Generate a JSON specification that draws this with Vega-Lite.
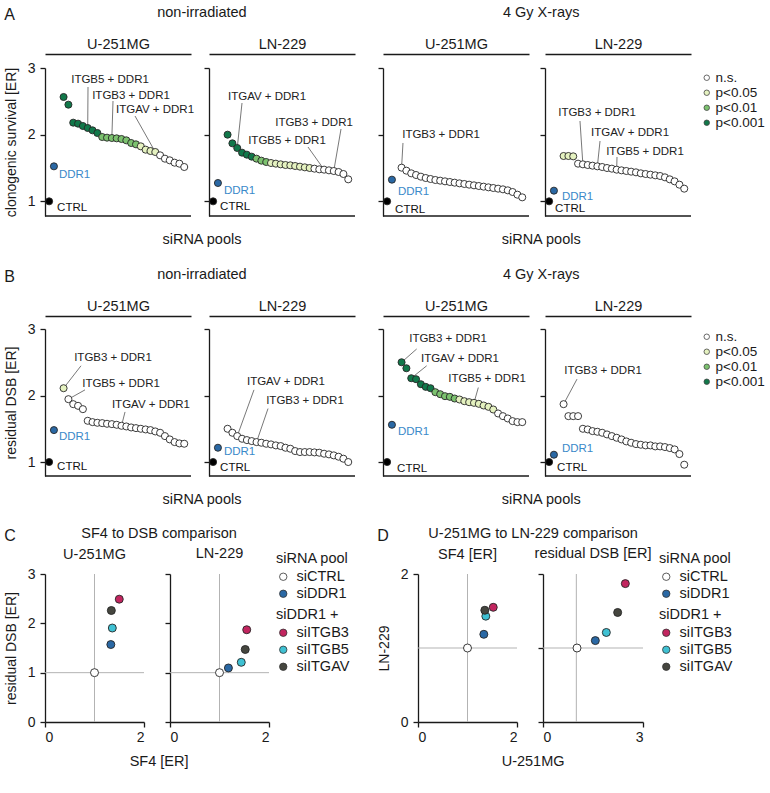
{
 "$schema": "https://vega.github.io/schema/vega-lite/v6.json",
 "background": "white",
 "padding": {"left": 4, "top": 4, "right": 2, "bottom": 2},
 "config": {
  "font": "Liberation Sans",
  "view": {"stroke": null},
  "axis": {"grid": false, "domainColor": "#1a1a1a", "domainWidth": 1.3, "tickColor": "#1a1a1a", "tickWidth": 1.3, "labelFontSize": 14, "labelColor": "#1a1a1a", "titleFontSize": 14.5, "titleFontWeight": "normal", "titleColor": "#1a1a1a"},
  "legend": {"labelFontSize": 14, "titleFontSize": 14.5, "titleFontWeight": "normal", "labelColor": "#1a1a1a", "titleColor": "#1a1a1a", "symbolType": "circle"}
 },
 "datasets": {
  "one": [{"h": 0}],
  "scr": [
   {"p":"A1","i":0,"v":1,"c":"CTRL"},{"p":"A1","i":1,"v":1.525,"c":"DDR1"},
   {"p":"A1","i":3,"v":2.565,"c":"p<0.001"},{"p":"A1","i":4,"v":2.45,"c":"p<0.001"},{"p":"A1","i":5,"v":2.18,"c":"p<0.001"},{"p":"A1","i":6,"v":2.165,"c":"p<0.001"},{"p":"A1","i":7,"v":2.13,"c":"p<0.001"},{"p":"A1","i":8,"v":2.1,"c":"p<0.001"},{"p":"A1","i":9,"v":2.065,"c":"p<0.001"},{"p":"A1","i":10,"v":2.025,"c":"p<0.001"},
   {"p":"A1","i":11,"v":1.965,"c":"p<0.01"},{"p":"A1","i":12,"v":1.955,"c":"p<0.01"},{"p":"A1","i":13,"v":1.95,"c":"p<0.01"},{"p":"A1","i":14,"v":1.945,"c":"p<0.01"},{"p":"A1","i":15,"v":1.935,"c":"p<0.01"},{"p":"A1","i":16,"v":1.915,"c":"p<0.01"},{"p":"A1","i":17,"v":1.875,"c":"p<0.01"},{"p":"A1","i":18,"v":1.855,"c":"p<0.01"},
   {"p":"A1","i":19,"v":1.825,"c":"p<0.05"},{"p":"A1","i":20,"v":1.775,"c":"p<0.05"},{"p":"A1","i":21,"v":1.755,"c":"p<0.05"},{"p":"A1","i":22,"v":1.74,"c":"p<0.05"},
   {"p":"A1","i":23,"v":1.69,"c":"n.s."},{"p":"A1","i":24,"v":1.64,"c":"n.s."},{"p":"A1","i":25,"v":1.615,"c":"n.s."},{"p":"A1","i":26,"v":1.58,"c":"n.s."},{"p":"A1","i":27,"v":1.565,"c":"n.s."},{"p":"A1","i":28,"v":1.515,"c":"n.s."},
   {"p":"A2","i":0,"v":1,"c":"CTRL"},{"p":"A2","i":1,"v":1.275,"c":"DDR1"},
   {"p":"A2","i":3,"v":2.0,"c":"p<0.001"},{"p":"A2","i":4,"v":1.87,"c":"p<0.001"},{"p":"A2","i":5,"v":1.8,"c":"p<0.001"},{"p":"A2","i":6,"v":1.73,"c":"p<0.001"},{"p":"A2","i":7,"v":1.7,"c":"p<0.001"},{"p":"A2","i":8,"v":1.67,"c":"p<0.001"},
   {"p":"A2","i":9,"v":1.64,"c":"p<0.01"},{"p":"A2","i":10,"v":1.61,"c":"p<0.01"},{"p":"A2","i":11,"v":1.59,"c":"p<0.01"},
   {"p":"A2","i":12,"v":1.575,"c":"p<0.05"},{"p":"A2","i":13,"v":1.565,"c":"p<0.05"},{"p":"A2","i":14,"v":1.555,"c":"p<0.05"},{"p":"A2","i":15,"v":1.545,"c":"p<0.05"},{"p":"A2","i":16,"v":1.54,"c":"p<0.05"},{"p":"A2","i":17,"v":1.53,"c":"p<0.05"},{"p":"A2","i":18,"v":1.52,"c":"p<0.05"},{"p":"A2","i":19,"v":1.51,"c":"p<0.05"},{"p":"A2","i":20,"v":1.5,"c":"p<0.05"},
   {"p":"A2","i":21,"v":1.49,"c":"n.s."},{"p":"A2","i":22,"v":1.48,"c":"n.s."},{"p":"A2","i":23,"v":1.475,"c":"n.s."},{"p":"A2","i":24,"v":1.465,"c":"n.s."},{"p":"A2","i":25,"v":1.455,"c":"n.s."},{"p":"A2","i":26,"v":1.44,"c":"n.s."},{"p":"A2","i":27,"v":1.41,"c":"n.s."},{"p":"A2","i":28,"v":1.33,"c":"n.s."},
   {"p":"A3","i":0,"v":1,"c":"CTRL"},{"p":"A3","i":1,"v":1.325,"c":"DDR1"},
   {"p":"A3","i":3,"v":1.505,"c":"n.s."},{"p":"A3","i":4,"v":1.46,"c":"n.s."},{"p":"A3","i":5,"v":1.42,"c":"n.s."},{"p":"A3","i":6,"v":1.395,"c":"n.s."},{"p":"A3","i":7,"v":1.37,"c":"n.s."},{"p":"A3","i":8,"v":1.35,"c":"n.s."},{"p":"A3","i":9,"v":1.335,"c":"n.s."},{"p":"A3","i":10,"v":1.32,"c":"n.s."},{"p":"A3","i":11,"v":1.31,"c":"n.s."},{"p":"A3","i":12,"v":1.3,"c":"n.s."},{"p":"A3","i":13,"v":1.29,"c":"n.s."},{"p":"A3","i":14,"v":1.28,"c":"n.s."},{"p":"A3","i":15,"v":1.27,"c":"n.s."},{"p":"A3","i":16,"v":1.26,"c":"n.s."},{"p":"A3","i":17,"v":1.25,"c":"n.s."},{"p":"A3","i":18,"v":1.24,"c":"n.s."},{"p":"A3","i":19,"v":1.23,"c":"n.s."},{"p":"A3","i":20,"v":1.22,"c":"n.s."},{"p":"A3","i":21,"v":1.21,"c":"n.s."},{"p":"A3","i":22,"v":1.2,"c":"n.s."},{"p":"A3","i":23,"v":1.19,"c":"n.s."},{"p":"A3","i":24,"v":1.18,"c":"n.s."},{"p":"A3","i":25,"v":1.165,"c":"n.s."},{"p":"A3","i":26,"v":1.14,"c":"n.s."},{"p":"A3","i":27,"v":1.1,"c":"n.s."},{"p":"A3","i":28,"v":1.06,"c":"n.s."},
   {"p":"A4","i":0,"v":1,"c":"CTRL"},{"p":"A4","i":1,"v":1.16,"c":"DDR1"},
   {"p":"A4","i":3,"v":1.68,"c":"p<0.05"},{"p":"A4","i":4,"v":1.68,"c":"p<0.05"},{"p":"A4","i":5,"v":1.675,"c":"p<0.05"},
   {"p":"A4","i":6,"v":1.565,"c":"n.s."},{"p":"A4","i":7,"v":1.555,"c":"n.s."},{"p":"A4","i":8,"v":1.545,"c":"n.s."},{"p":"A4","i":9,"v":1.535,"c":"n.s."},{"p":"A4","i":10,"v":1.525,"c":"n.s."},{"p":"A4","i":11,"v":1.515,"c":"n.s."},{"p":"A4","i":12,"v":1.5,"c":"n.s."},{"p":"A4","i":13,"v":1.49,"c":"n.s."},{"p":"A4","i":14,"v":1.475,"c":"n.s."},{"p":"A4","i":15,"v":1.465,"c":"n.s."},{"p":"A4","i":16,"v":1.455,"c":"n.s."},{"p":"A4","i":17,"v":1.445,"c":"n.s."},{"p":"A4","i":18,"v":1.435,"c":"n.s."},{"p":"A4","i":19,"v":1.42,"c":"n.s."},{"p":"A4","i":20,"v":1.41,"c":"n.s."},{"p":"A4","i":21,"v":1.4,"c":"n.s."},{"p":"A4","i":22,"v":1.39,"c":"n.s."},{"p":"A4","i":23,"v":1.38,"c":"n.s."},{"p":"A4","i":24,"v":1.36,"c":"n.s."},{"p":"A4","i":25,"v":1.33,"c":"n.s."},{"p":"A4","i":26,"v":1.3,"c":"n.s."},{"p":"A4","i":27,"v":1.25,"c":"n.s."},{"p":"A4","i":28,"v":1.19,"c":"n.s."},
   {"p":"B1","i":0,"v":1,"c":"CTRL"},{"p":"B1","i":1,"v":1.48,"c":"DDR1"},
   {"p":"B1","i":3,"v":2.11,"c":"p<0.05"},
   {"p":"B1","i":4,"v":1.945,"c":"n.s."},{"p":"B1","i":5,"v":1.87,"c":"n.s."},{"p":"B1","i":6,"v":1.845,"c":"n.s."},{"p":"B1","i":7,"v":1.795,"c":"n.s."},{"p":"B1","i":8,"v":1.62,"c":"n.s."},{"p":"B1","i":9,"v":1.6,"c":"n.s."},{"p":"B1","i":10,"v":1.59,"c":"n.s."},{"p":"B1","i":11,"v":1.585,"c":"n.s."},{"p":"B1","i":12,"v":1.575,"c":"n.s."},{"p":"B1","i":13,"v":1.57,"c":"n.s."},{"p":"B1","i":14,"v":1.56,"c":"n.s."},{"p":"B1","i":15,"v":1.545,"c":"n.s."},{"p":"B1","i":16,"v":1.535,"c":"n.s."},{"p":"B1","i":17,"v":1.52,"c":"n.s."},{"p":"B1","i":18,"v":1.51,"c":"n.s."},{"p":"B1","i":19,"v":1.5,"c":"n.s."},{"p":"B1","i":20,"v":1.49,"c":"n.s."},{"p":"B1","i":21,"v":1.48,"c":"n.s."},{"p":"B1","i":22,"v":1.46,"c":"n.s."},{"p":"B1","i":23,"v":1.44,"c":"n.s."},{"p":"B1","i":24,"v":1.39,"c":"n.s."},{"p":"B1","i":25,"v":1.34,"c":"n.s."},{"p":"B1","i":26,"v":1.3,"c":"n.s."},{"p":"B1","i":27,"v":1.28,"c":"n.s."},{"p":"B1","i":28,"v":1.275,"c":"n.s."},
   {"p":"B2","i":0,"v":1,"c":"CTRL"},{"p":"B2","i":1,"v":1.215,"c":"DDR1"},
   {"p":"B2","i":3,"v":1.5,"c":"n.s."},{"p":"B2","i":4,"v":1.44,"c":"n.s."},{"p":"B2","i":5,"v":1.39,"c":"n.s."},{"p":"B2","i":6,"v":1.35,"c":"n.s."},{"p":"B2","i":7,"v":1.33,"c":"n.s."},{"p":"B2","i":8,"v":1.315,"c":"n.s."},{"p":"B2","i":9,"v":1.3,"c":"n.s."},{"p":"B2","i":10,"v":1.29,"c":"n.s."},{"p":"B2","i":11,"v":1.275,"c":"n.s."},{"p":"B2","i":12,"v":1.265,"c":"n.s."},{"p":"B2","i":13,"v":1.25,"c":"n.s."},{"p":"B2","i":14,"v":1.24,"c":"n.s."},{"p":"B2","i":15,"v":1.215,"c":"n.s."},{"p":"B2","i":16,"v":1.2,"c":"n.s."},{"p":"B2","i":17,"v":1.165,"c":"n.s."},{"p":"B2","i":18,"v":1.15,"c":"n.s."},{"p":"B2","i":19,"v":1.15,"c":"n.s."},{"p":"B2","i":20,"v":1.15,"c":"n.s."},{"p":"B2","i":21,"v":1.145,"c":"n.s."},{"p":"B2","i":22,"v":1.14,"c":"n.s."},{"p":"B2","i":23,"v":1.125,"c":"n.s."},{"p":"B2","i":24,"v":1.115,"c":"n.s."},{"p":"B2","i":25,"v":1.1,"c":"n.s."},{"p":"B2","i":26,"v":1.08,"c":"n.s."},{"p":"B2","i":27,"v":1.05,"c":"n.s."},{"p":"B2","i":28,"v":1.0,"c":"n.s."},
   {"p":"B3","i":0,"v":1,"c":"CTRL"},{"p":"B3","i":1,"v":1.56,"c":"DDR1"},
   {"p":"B3","i":3,"v":2.5,"c":"p<0.001"},{"p":"B3","i":4,"v":2.41,"c":"p<0.001"},{"p":"B3","i":5,"v":2.26,"c":"p<0.001"},{"p":"B3","i":6,"v":2.245,"c":"p<0.001"},{"p":"B3","i":7,"v":2.17,"c":"p<0.001"},{"p":"B3","i":8,"v":2.13,"c":"p<0.001"},{"p":"B3","i":9,"v":2.11,"c":"p<0.001"},
   {"p":"B3","i":10,"v":2.05,"c":"p<0.01"},{"p":"B3","i":11,"v":2.02,"c":"p<0.01"},{"p":"B3","i":12,"v":1.99,"c":"p<0.01"},{"p":"B3","i":13,"v":1.98,"c":"p<0.01"},{"p":"B3","i":14,"v":1.955,"c":"p<0.01"},
   {"p":"B3","i":15,"v":1.94,"c":"p<0.05"},{"p":"B3","i":16,"v":1.915,"c":"p<0.05"},{"p":"B3","i":17,"v":1.9,"c":"p<0.05"},{"p":"B3","i":18,"v":1.89,"c":"p<0.05"},{"p":"B3","i":19,"v":1.875,"c":"p<0.05"},{"p":"B3","i":20,"v":1.85,"c":"p<0.05"},{"p":"B3","i":21,"v":1.83,"c":"p<0.05"},{"p":"B3","i":22,"v":1.79,"c":"p<0.05"},
   {"p":"B3","i":23,"v":1.73,"c":"n.s."},{"p":"B3","i":24,"v":1.69,"c":"n.s."},{"p":"B3","i":25,"v":1.655,"c":"n.s."},{"p":"B3","i":26,"v":1.615,"c":"n.s."},{"p":"B3","i":27,"v":1.6,"c":"n.s."},{"p":"B3","i":28,"v":1.6,"c":"n.s."},
   {"p":"B4","i":0,"v":1,"c":"CTRL"},{"p":"B4","i":1,"v":1.11,"c":"DDR1"},
   {"p":"B4","i":3,"v":1.87,"c":"n.s."},{"p":"B4","i":4,"v":1.69,"c":"n.s."},{"p":"B4","i":5,"v":1.69,"c":"n.s."},{"p":"B4","i":6,"v":1.69,"c":"n.s."},{"p":"B4","i":7,"v":1.5,"c":"n.s."},{"p":"B4","i":8,"v":1.49,"c":"n.s."},{"p":"B4","i":9,"v":1.465,"c":"n.s."},{"p":"B4","i":10,"v":1.455,"c":"n.s."},{"p":"B4","i":11,"v":1.44,"c":"n.s."},{"p":"B4","i":12,"v":1.415,"c":"n.s."},{"p":"B4","i":13,"v":1.39,"c":"n.s."},{"p":"B4","i":14,"v":1.365,"c":"n.s."},{"p":"B4","i":15,"v":1.34,"c":"n.s."},{"p":"B4","i":16,"v":1.31,"c":"n.s."},{"p":"B4","i":17,"v":1.29,"c":"n.s."},{"p":"B4","i":18,"v":1.27,"c":"n.s."},{"p":"B4","i":19,"v":1.26,"c":"n.s."},{"p":"B4","i":20,"v":1.25,"c":"n.s."},{"p":"B4","i":21,"v":1.25,"c":"n.s."},{"p":"B4","i":22,"v":1.235,"c":"n.s."},{"p":"B4","i":23,"v":1.235,"c":"n.s."},{"p":"B4","i":24,"v":1.225,"c":"n.s."},{"p":"B4","i":25,"v":1.21,"c":"n.s."},{"p":"B4","i":26,"v":1.19,"c":"n.s."},{"p":"B4","i":27,"v":1.12,"c":"n.s."},{"p":"B4","i":28,"v":0.96,"c":"n.s."}
  ],
  "ann": [
   {"p":"A1","t":"ITGB5 + DDR1","i":8,"v":2.1,"li":8.06,"lv":2.715,"ti":12.62,"tv":2.82},
   {"p":"A1","t":"ITGB3 + DDR1","i":13,"v":1.95,"li":13.24,"lv":2.505,"ti":16.97,"tv":2.58},
   {"p":"A1","t":"ITGAV + DDR1","i":22,"v":1.74,"li":17.8,"lv":2.28,"ti":21.94,"tv":2.37},
   {"p":"A2","t":"ITGAV + DDR1","i":5,"v":1.8,"li":5.99,"lv":2.475,"ti":11.17,"tv":2.565},
   {"p":"A2","t":"ITGB3 + DDR1","i":25,"v":1.455,"li":26.5,"lv":2.085,"ti":20.91,"tv":2.175},
   {"p":"A2","t":"ITGB5 + DDR1","i":23,"v":1.475,"li":19.66,"lv":1.815,"ti":15.31,"tv":1.905},
   {"p":"A3","t":"ITGB3 + DDR1","i":3,"v":1.505,"li":3.29,"lv":1.875,"ti":11.17,"tv":1.995},
   {"p":"A4","t":"ITGB3 + DDR1","i":7,"v":1.555,"li":6.4,"lv":2.205,"ti":9.93,"tv":2.325},
   {"p":"A4","t":"ITGAV + DDR1","i":10,"v":1.525,"li":10.55,"lv":1.905,"ti":16.76,"tv":2.025},
   {"p":"A4","t":"ITGB5 + DDR1","i":14,"v":1.475,"li":14.07,"lv":1.665,"ti":19.87,"tv":1.74},
   {"p":"B1","t":"ITGB3 + DDR1","i":3,"v":2.11,"li":6.61,"lv":2.447,"ti":13.24,"tv":2.56},
   {"p":"B1","t":"ITGB5 + DDR1","i":4,"v":1.945,"li":7.44,"lv":2.085,"ti":14.9,"tv":2.17},
   {"p":"B1","t":"ITGAV + DDR1","i":15,"v":1.545,"li":15.73,"lv":1.753,"ti":21.1,"tv":1.854},
   {"p":"B2","t":"ITGAV + DDR1","i":5,"v":1.39,"li":8.47,"lv":2.085,"ti":15.1,"tv":2.196},
   {"p":"B2","t":"ITGB3 + DDR1","i":9,"v":1.3,"li":11.38,"lv":1.804,"ti":19.04,"tv":1.919},
   {"p":"B3","t":"ITGB3 + DDR1","i":3,"v":2.5,"li":6.13,"lv":2.7,"ti":12.62,"tv":2.85},
   {"p":"B3","t":"ITGAV + DDR1","i":5,"v":2.26,"li":8.2,"lv":2.447,"ti":15.1,"tv":2.548},
   {"p":"B3","t":"ITGB5 + DDR1","i":18,"v":1.89,"li":18.9,"lv":2.12,"ti":20.7,"tv":2.246},
   {"p":"B4","t":"ITGB3 + DDR1","i":3,"v":1.87,"li":5.78,"lv":2.246,"ti":11.17,"tv":2.371}
  ],
  "cd": [
   {"p":"C1","s":"siCTRL","x":1,"y":1},{"p":"C1","s":"siDDR1","x":1.33,"y":1.57},{"p":"C1","s":"siITGB3","x":1.5,"y":2.49},{"p":"C1","s":"siITGB5","x":1.36,"y":1.905},{"p":"C1","s":"siITGAV","x":1.34,"y":2.26},
   {"p":"C2","s":"siCTRL","x":1,"y":1},{"p":"C2","s":"siDDR1","x":1.18,"y":1.095},{"p":"C2","s":"siITGB3","x":1.55,"y":1.87},{"p":"C2","s":"siITGB5","x":1.44,"y":1.21},{"p":"C2","s":"siITGAV","x":1.52,"y":1.47},
   {"p":"D1","s":"siCTRL","x":1,"y":1},{"p":"D1","s":"siDDR1","x":1.33,"y":1.185},{"p":"D1","s":"siITGB3","x":1.52,"y":1.55},{"p":"D1","s":"siITGB5","x":1.37,"y":1.43},{"p":"D1","s":"siITGAV","x":1.35,"y":1.51},
   {"p":"D2","s":"siCTRL","x":1.02,"y":1},{"p":"D2","s":"siDDR1","x":1.57,"y":1.1},{"p":"D2","s":"siITGB3","x":2.47,"y":1.87},{"p":"D2","s":"siITGB5","x":1.9,"y":1.21},{"p":"D2","s":"siITGAV","x":2.24,"y":1.48}
  ]
 },
 "resolve": {"scale": {"fill": "independent"}, "legend": {"fill": "independent"}},
 "spacing": 19,
 "vconcat": [
  {
   "title": {"text": "A", "anchor": "start", "frame": "bounds", "offset": -18, "fontSize": 16, "fontWeight": "normal", "color": "#1a1a1a"},
   "spacing": 21,
   "resolve": {"scale": {"fill": "independent"}, "legend": {"fill": "independent"}},
   "hconcat": [
    {
     "title": {"text": "siRNA pools", "orient": "bottom", "anchor": "middle", "frame": "bounds", "offset": 16, "dx": 22, "fontSize": 14.5, "fontWeight": "normal", "color": "#1a1a1a"},
     "resolve": {"scale": {"fill": "independent"}, "legend": {"fill": "independent"}},
     "hconcat": [
      {
       "title": {"text": "non-irradiated", "anchor": "middle", "frame": "bounds", "offset": 16, "dx": 22, "fontSize": 14.5, "fontWeight": "normal", "color": "#1a1a1a"},
       "resolve": {"scale": {"fill": "independent"}, "legend": {"fill": "independent"}},
       "hconcat": [
        {
         "bounds": "flush", "spacing": 18,
         "resolve": {"scale": {"fill": "independent"}, "legend": {"fill": "independent"}},
         "hconcat": [
          {
           "width": 146, "height": 148,
           "layer": [
            {"data": {"name": "one"}, "mark": {"type": "rule", "stroke": "#1a1a1a", "strokeWidth": 1.3}, "encoding": {"y": {"datum": 0.78, "type": "quantitative", "scale": {"domain": [0.78, 3], "zero": false}}}},
            {"data": {"name": "ann"}, "transform": [{"filter": "datum.p == 'A1'"}], "mark": {"type": "rule", "stroke": "#555555", "strokeWidth": 0.8},
             "encoding": {"x": {"field": "i", "type": "quantitative", "scale": {"domain": [-0.85, 29.4]}, "axis": {"orient": "top", "offset": 14, "title": "U-251MG", "labels": false, "ticks": false, "titlePadding": 3}}, "x2": {"field": "li"}, "y": {"field": "v", "type": "quantitative", "scale": {"domain": [0.78, 3], "zero": false}}, "y2": {"field": "lv"}}},
            {"data": {"name": "ann"}, "transform": [{"filter": "datum.p == 'A1'"}], "mark": {"type": "text", "fontSize": 11.5, "fill": "#222222"},
             "encoding": {"x": {"field": "ti", "type": "quantitative", "scale": {"domain": [-0.85, 29.4]}}, "y": {"field": "tv", "type": "quantitative", "scale": {"domain": [0.78, 3], "zero": false}}, "text": {"field": "t"}}},
            {"data": {"name": "scr"}, "transform": [{"filter": "datum.p == 'A1'"}], "mark": {"type": "circle", "size": 50, "opacity": 1, "stroke": "#262626", "strokeWidth": 0.9},
             "encoding": {"x": {"field": "i", "type": "quantitative", "scale": {"domain": [-0.85, 29.4]}},
              "y": {"field": "v", "type": "quantitative", "scale": {"domain": [0.78, 3], "zero": false}, "axis": {"values": [1, 2, 3], "format": "d", "tickSize": 5, "labelPadding": 5, "title": "clonogenic survival [ER]", "titleFontSize": 14, "titlePadding": 9}},
              "fill": {"field": "c", "type": "nominal", "scale": {"domain": ["CTRL", "DDR1", "n.s.", "p<0.05", "p<0.01", "p<0.001"], "range": ["#000000", "#2a68a4", "#ffffff", "#e5f2c0", "#7cc26f", "#11784a"]}, "legend": null}}},
            {"data": {"name": "scr"}, "transform": [{"filter": "datum.p == 'A1' && datum.c == 'CTRL'"}], "mark": {"type": "text", "align": "left", "dx": 8, "dy": 7, "fontSize": 11.5, "fill": "#111111"},
             "encoding": {"x": {"field": "i", "type": "quantitative", "scale": {"domain": [-0.85, 29.4]}}, "y": {"field": "v", "type": "quantitative", "scale": {"domain": [0.78, 3], "zero": false}}, "text": {"field": "c"}}},
            {"data": {"name": "scr"}, "transform": [{"filter": "datum.p == 'A1' && datum.c == 'DDR1'"}], "mark": {"type": "text", "align": "left", "dx": 5, "dy": 9, "fontSize": 11.5, "fill": "#3a89c9"},
             "encoding": {"x": {"field": "i", "type": "quantitative", "scale": {"domain": [-0.85, 29.4]}}, "y": {"field": "v", "type": "quantitative", "scale": {"domain": [0.78, 3], "zero": false}}, "text": {"field": "c"}}}
           ]
          },
          {
           "width": 146, "height": 148,
           "layer": [
            {"data": {"name": "one"}, "mark": {"type": "rule", "stroke": "#1a1a1a", "strokeWidth": 1.3}, "encoding": {"y": {"datum": 0.78, "type": "quantitative", "scale": {"domain": [0.78, 3], "zero": false}}}},
            {"data": {"name": "ann"}, "transform": [{"filter": "datum.p == 'A2'"}], "mark": {"type": "rule", "stroke": "#555555", "strokeWidth": 0.8},
             "encoding": {"x": {"field": "i", "type": "quantitative", "scale": {"domain": [-0.85, 29.4]}, "axis": {"orient": "top", "offset": 14, "title": "LN-229", "labels": false, "ticks": false, "titlePadding": 3}}, "x2": {"field": "li"}, "y": {"field": "v", "type": "quantitative", "scale": {"domain": [0.78, 3], "zero": false}}, "y2": {"field": "lv"}}},
            {"data": {"name": "ann"}, "transform": [{"filter": "datum.p == 'A2'"}], "mark": {"type": "text", "fontSize": 11.5, "fill": "#222222"},
             "encoding": {"x": {"field": "ti", "type": "quantitative", "scale": {"domain": [-0.85, 29.4]}}, "y": {"field": "tv", "type": "quantitative", "scale": {"domain": [0.78, 3], "zero": false}}, "text": {"field": "t"}}},
            {"data": {"name": "scr"}, "transform": [{"filter": "datum.p == 'A2'"}], "mark": {"type": "circle", "size": 50, "opacity": 1, "stroke": "#262626", "strokeWidth": 0.9},
             "encoding": {"x": {"field": "i", "type": "quantitative", "scale": {"domain": [-0.85, 29.4]}},
              "y": {"field": "v", "type": "quantitative", "scale": {"domain": [0.78, 3], "zero": false}, "axis": {"values": [1, 2, 3], "tickSize": 5, "labels": false, "title": null}},
              "fill": {"field": "c", "type": "nominal", "scale": {"domain": ["CTRL", "DDR1", "n.s.", "p<0.05", "p<0.01", "p<0.001"], "range": ["#000000", "#2a68a4", "#ffffff", "#e5f2c0", "#7cc26f", "#11784a"]}, "legend": null}}},
            {"data": {"name": "scr"}, "transform": [{"filter": "datum.p == 'A2' && datum.c == 'CTRL'"}], "mark": {"type": "text", "align": "left", "dx": 7, "dy": 6, "fontSize": 11.5, "fill": "#111111"},
             "encoding": {"x": {"field": "i", "type": "quantitative", "scale": {"domain": [-0.85, 29.4]}}, "y": {"field": "v", "type": "quantitative", "scale": {"domain": [0.78, 3], "zero": false}}, "text": {"field": "c"}}},
            {"data": {"name": "scr"}, "transform": [{"filter": "datum.p == 'A2' && datum.c == 'DDR1'"}], "mark": {"type": "text", "align": "left", "dx": 6, "dy": 8, "fontSize": 11.5, "fill": "#3a89c9"},
             "encoding": {"x": {"field": "i", "type": "quantitative", "scale": {"domain": [-0.85, 29.4]}}, "y": {"field": "v", "type": "quantitative", "scale": {"domain": [0.78, 3], "zero": false}}, "text": {"field": "c"}}}
           ]
          }
         ]
        }
       ]
      }
     ]
    },
    {
     "title": {"text": "siRNA pools", "orient": "bottom", "anchor": "middle", "frame": "bounds", "offset": 16, "dx": -30, "fontSize": 14.5, "fontWeight": "normal", "color": "#1a1a1a"},
     "resolve": {"scale": {"fill": "independent"}, "legend": {"fill": "independent"}},
     "hconcat": [
      {
       "title": {"text": "4 Gy X-rays", "anchor": "middle", "frame": "bounds", "offset": 16, "dx": -30, "fontSize": 14.5, "fontWeight": "normal", "color": "#1a1a1a"},
       "resolve": {"scale": {"fill": "independent"}, "legend": {"fill": "independent"}},
       "hconcat": [
        {
         "bounds": "flush", "spacing": 16,
         "resolve": {"scale": {"fill": "independent"}, "legend": {"fill": "independent"}},
         "hconcat": [
          {
           "width": 146, "height": 148,
           "layer": [
            {"data": {"name": "one"}, "mark": {"type": "rule", "stroke": "#1a1a1a", "strokeWidth": 1.3}, "encoding": {"y": {"datum": 0.78, "type": "quantitative", "scale": {"domain": [0.78, 3], "zero": false}}}},
            {"data": {"name": "ann"}, "transform": [{"filter": "datum.p == 'A3'"}], "mark": {"type": "rule", "stroke": "#555555", "strokeWidth": 0.8},
             "encoding": {"x": {"field": "i", "type": "quantitative", "scale": {"domain": [-0.85, 29.4]}, "axis": {"orient": "top", "offset": 14, "title": "U-251MG", "labels": false, "ticks": false, "titlePadding": 3}}, "x2": {"field": "li"}, "y": {"field": "v", "type": "quantitative", "scale": {"domain": [0.78, 3], "zero": false}}, "y2": {"field": "lv"}}},
            {"data": {"name": "ann"}, "transform": [{"filter": "datum.p == 'A3'"}], "mark": {"type": "text", "fontSize": 11.5, "fill": "#222222"},
             "encoding": {"x": {"field": "ti", "type": "quantitative", "scale": {"domain": [-0.85, 29.4]}}, "y": {"field": "tv", "type": "quantitative", "scale": {"domain": [0.78, 3], "zero": false}}, "text": {"field": "t"}}},
            {"data": {"name": "scr"}, "transform": [{"filter": "datum.p == 'A3'"}], "mark": {"type": "circle", "size": 50, "opacity": 1, "stroke": "#262626", "strokeWidth": 0.9},
             "encoding": {"x": {"field": "i", "type": "quantitative", "scale": {"domain": [-0.85, 29.4]}},
              "y": {"field": "v", "type": "quantitative", "scale": {"domain": [0.78, 3], "zero": false}, "axis": {"values": [1, 2, 3], "tickSize": 5, "labels": false, "title": null}},
              "fill": {"field": "c", "type": "nominal", "scale": {"domain": ["CTRL", "DDR1", "n.s.", "p<0.05", "p<0.01", "p<0.001"], "range": ["#000000", "#2a68a4", "#ffffff", "#e5f2c0", "#7cc26f", "#11784a"]}, "legend": null}}},
            {"data": {"name": "scr"}, "transform": [{"filter": "datum.p == 'A3' && datum.c == 'CTRL'"}], "mark": {"type": "text", "align": "left", "dx": 8, "dy": 9, "fontSize": 11.5, "fill": "#111111"},
             "encoding": {"x": {"field": "i", "type": "quantitative", "scale": {"domain": [-0.85, 29.4]}}, "y": {"field": "v", "type": "quantitative", "scale": {"domain": [0.78, 3], "zero": false}}, "text": {"field": "c"}}},
            {"data": {"name": "scr"}, "transform": [{"filter": "datum.p == 'A3' && datum.c == 'DDR1'"}], "mark": {"type": "text", "align": "left", "dx": 6, "dy": 12, "fontSize": 11.5, "fill": "#3a89c9"},
             "encoding": {"x": {"field": "i", "type": "quantitative", "scale": {"domain": [-0.85, 29.4]}}, "y": {"field": "v", "type": "quantitative", "scale": {"domain": [0.78, 3], "zero": false}}, "text": {"field": "c"}}}
           ]
          },
          {
           "width": 146, "height": 148,
           "layer": [
            {"data": {"name": "one"}, "mark": {"type": "rule", "stroke": "#1a1a1a", "strokeWidth": 1.3}, "encoding": {"y": {"datum": 0.78, "type": "quantitative", "scale": {"domain": [0.78, 3], "zero": false}}}},
            {"data": {"name": "ann"}, "transform": [{"filter": "datum.p == 'A4'"}], "mark": {"type": "rule", "stroke": "#555555", "strokeWidth": 0.8},
             "encoding": {"x": {"field": "i", "type": "quantitative", "scale": {"domain": [-0.85, 29.4]}, "axis": {"orient": "top", "offset": 14, "title": "LN-229", "labels": false, "ticks": false, "titlePadding": 3}}, "x2": {"field": "li"}, "y": {"field": "v", "type": "quantitative", "scale": {"domain": [0.78, 3], "zero": false}}, "y2": {"field": "lv"}}},
            {"data": {"name": "ann"}, "transform": [{"filter": "datum.p == 'A4'"}], "mark": {"type": "text", "fontSize": 11.5, "fill": "#222222"},
             "encoding": {"x": {"field": "ti", "type": "quantitative", "scale": {"domain": [-0.85, 29.4]}}, "y": {"field": "tv", "type": "quantitative", "scale": {"domain": [0.78, 3], "zero": false}}, "text": {"field": "t"}}},
            {"data": {"name": "scr"}, "transform": [{"filter": "datum.p == 'A4'"}], "mark": {"type": "circle", "size": 50, "opacity": 1, "stroke": "#262626", "strokeWidth": 0.9},
             "encoding": {"x": {"field": "i", "type": "quantitative", "scale": {"domain": [-0.85, 29.4]}},
              "y": {"field": "v", "type": "quantitative", "scale": {"domain": [0.78, 3], "zero": false}, "axis": {"values": [1, 2, 3], "tickSize": 5, "labels": false, "title": null}},
              "fill": {"field": "c", "type": "nominal", "scale": {"domain": ["CTRL", "DDR1", "n.s.", "p<0.05", "p<0.01", "p<0.001"], "range": ["#000000", "#2a68a4", "#ffffff", "#e5f2c0", "#7cc26f", "#11784a"]},
               "legend": {"orient": "none", "legendX": 155, "legendY": 3, "title": null, "values": ["n.s.", "p<0.05", "p<0.01", "p<0.001"], "symbolSize": 30, "symbolStrokeColor": "#444444", "symbolStrokeWidth": 0.8, "labelFontSize": 13.5, "rowPadding": 0, "labelOffset": 2}}}},
            {"data": {"name": "scr"}, "transform": [{"filter": "datum.p == 'A4' && datum.c == 'CTRL'"}], "mark": {"type": "text", "align": "left", "dx": 6, "dy": 8, "fontSize": 11.5, "fill": "#111111"},
             "encoding": {"x": {"field": "i", "type": "quantitative", "scale": {"domain": [-0.85, 29.4]}}, "y": {"field": "v", "type": "quantitative", "scale": {"domain": [0.78, 3], "zero": false}}, "text": {"field": "c"}}},
            {"data": {"name": "scr"}, "transform": [{"filter": "datum.p == 'A4' && datum.c == 'DDR1'"}], "mark": {"type": "text", "align": "left", "dx": 8, "dy": 6, "fontSize": 11.5, "fill": "#3a89c9"},
             "encoding": {"x": {"field": "i", "type": "quantitative", "scale": {"domain": [-0.85, 29.4]}}, "y": {"field": "v", "type": "quantitative", "scale": {"domain": [0.78, 3], "zero": false}}, "text": {"field": "c"}}}
           ]
          }
         ]
        }
       ]
      }
     ]
    }
   ]
  },
  {
   "title": {"text": "B", "anchor": "start", "frame": "bounds", "offset": -18, "fontSize": 16, "fontWeight": "normal", "color": "#1a1a1a"},
   "spacing": 21,
   "resolve": {"scale": {"fill": "independent"}, "legend": {"fill": "independent"}},
   "hconcat": [
    {
     "title": {"text": "siRNA pools", "orient": "bottom", "anchor": "middle", "frame": "bounds", "offset": 16, "dx": 22, "fontSize": 14.5, "fontWeight": "normal", "color": "#1a1a1a"},
     "resolve": {"scale": {"fill": "independent"}, "legend": {"fill": "independent"}},
     "hconcat": [
      {
       "title": {"text": "non-irradiated", "anchor": "middle", "frame": "bounds", "offset": 16, "dx": 22, "fontSize": 14.5, "fontWeight": "normal", "color": "#1a1a1a"},
       "resolve": {"scale": {"fill": "independent"}, "legend": {"fill": "independent"}},
       "hconcat": [
        {
         "bounds": "flush", "spacing": 18,
         "resolve": {"scale": {"fill": "independent"}, "legend": {"fill": "independent"}},
         "hconcat": [
          {
           "width": 146, "height": 147,
           "layer": [
            {"data": {"name": "one"}, "mark": {"type": "rule", "stroke": "#1a1a1a", "strokeWidth": 1.3}, "encoding": {"y": {"datum": 0.79, "type": "quantitative", "scale": {"domain": [0.79, 3], "zero": false}}}},
            {"data": {"name": "ann"}, "transform": [{"filter": "datum.p == 'B1'"}], "mark": {"type": "rule", "stroke": "#555555", "strokeWidth": 0.8},
             "encoding": {"x": {"field": "i", "type": "quantitative", "scale": {"domain": [-0.85, 29.4]}, "axis": {"orient": "top", "offset": 13, "title": "U-251MG", "labels": false, "ticks": false, "titlePadding": 3}}, "x2": {"field": "li"}, "y": {"field": "v", "type": "quantitative", "scale": {"domain": [0.79, 3], "zero": false}}, "y2": {"field": "lv"}}},
            {"data": {"name": "ann"}, "transform": [{"filter": "datum.p == 'B1'"}], "mark": {"type": "text", "fontSize": 11.5, "fill": "#222222"},
             "encoding": {"x": {"field": "ti", "type": "quantitative", "scale": {"domain": [-0.85, 29.4]}}, "y": {"field": "tv", "type": "quantitative", "scale": {"domain": [0.79, 3], "zero": false}}, "text": {"field": "t"}}},
            {"data": {"name": "scr"}, "transform": [{"filter": "datum.p == 'B1'"}], "mark": {"type": "circle", "size": 50, "opacity": 1, "stroke": "#262626", "strokeWidth": 0.9},
             "encoding": {"x": {"field": "i", "type": "quantitative", "scale": {"domain": [-0.85, 29.4]}},
              "y": {"field": "v", "type": "quantitative", "scale": {"domain": [0.79, 3], "zero": false}, "axis": {"values": [1, 2, 3], "format": "d", "tickSize": 5, "labelPadding": 5, "title": "residual DSB [ER]", "titleFontSize": 14, "titlePadding": 9}},
              "fill": {"field": "c", "type": "nominal", "scale": {"domain": ["CTRL", "DDR1", "n.s.", "p<0.05", "p<0.01", "p<0.001"], "range": ["#000000", "#2a68a4", "#ffffff", "#e5f2c0", "#7cc26f", "#11784a"]}, "legend": null}}},
            {"data": {"name": "scr"}, "transform": [{"filter": "datum.p == 'B1' && datum.c == 'CTRL'"}], "mark": {"type": "text", "align": "left", "dx": 8, "dy": 5, "fontSize": 11.5, "fill": "#111111"},
             "encoding": {"x": {"field": "i", "type": "quantitative", "scale": {"domain": [-0.85, 29.4]}}, "y": {"field": "v", "type": "quantitative", "scale": {"domain": [0.79, 3], "zero": false}}, "text": {"field": "c"}}},
            {"data": {"name": "scr"}, "transform": [{"filter": "datum.p == 'B1' && datum.c == 'DDR1'"}], "mark": {"type": "text", "align": "left", "dx": 5, "dy": 7, "fontSize": 11.5, "fill": "#3a89c9"},
             "encoding": {"x": {"field": "i", "type": "quantitative", "scale": {"domain": [-0.85, 29.4]}}, "y": {"field": "v", "type": "quantitative", "scale": {"domain": [0.79, 3], "zero": false}}, "text": {"field": "c"}}}
           ]
          },
          {
           "width": 146, "height": 147,
           "layer": [
            {"data": {"name": "one"}, "mark": {"type": "rule", "stroke": "#1a1a1a", "strokeWidth": 1.3}, "encoding": {"y": {"datum": 0.79, "type": "quantitative", "scale": {"domain": [0.79, 3], "zero": false}}}},
            {"data": {"name": "ann"}, "transform": [{"filter": "datum.p == 'B2'"}], "mark": {"type": "rule", "stroke": "#555555", "strokeWidth": 0.8},
             "encoding": {"x": {"field": "i", "type": "quantitative", "scale": {"domain": [-0.85, 29.4]}, "axis": {"orient": "top", "offset": 13, "title": "LN-229", "labels": false, "ticks": false, "titlePadding": 3}}, "x2": {"field": "li"}, "y": {"field": "v", "type": "quantitative", "scale": {"domain": [0.79, 3], "zero": false}}, "y2": {"field": "lv"}}},
            {"data": {"name": "ann"}, "transform": [{"filter": "datum.p == 'B2'"}], "mark": {"type": "text", "fontSize": 11.5, "fill": "#222222"},
             "encoding": {"x": {"field": "ti", "type": "quantitative", "scale": {"domain": [-0.85, 29.4]}}, "y": {"field": "tv", "type": "quantitative", "scale": {"domain": [0.79, 3], "zero": false}}, "text": {"field": "t"}}},
            {"data": {"name": "scr"}, "transform": [{"filter": "datum.p == 'B2'"}], "mark": {"type": "circle", "size": 50, "opacity": 1, "stroke": "#262626", "strokeWidth": 0.9},
             "encoding": {"x": {"field": "i", "type": "quantitative", "scale": {"domain": [-0.85, 29.4]}},
              "y": {"field": "v", "type": "quantitative", "scale": {"domain": [0.79, 3], "zero": false}, "axis": {"values": [1, 2, 3], "tickSize": 5, "labels": false, "title": null}},
              "fill": {"field": "c", "type": "nominal", "scale": {"domain": ["CTRL", "DDR1", "n.s.", "p<0.05", "p<0.01", "p<0.001"], "range": ["#000000", "#2a68a4", "#ffffff", "#e5f2c0", "#7cc26f", "#11784a"]}, "legend": null}}},
            {"data": {"name": "scr"}, "transform": [{"filter": "datum.p == 'B2' && datum.c == 'CTRL'"}], "mark": {"type": "text", "align": "left", "dx": 7, "dy": 6, "fontSize": 11.5, "fill": "#111111"},
             "encoding": {"x": {"field": "i", "type": "quantitative", "scale": {"domain": [-0.85, 29.4]}}, "y": {"field": "v", "type": "quantitative", "scale": {"domain": [0.79, 3], "zero": false}}, "text": {"field": "c"}}},
            {"data": {"name": "scr"}, "transform": [{"filter": "datum.p == 'B2' && datum.c == 'DDR1'"}], "mark": {"type": "text", "align": "left", "dx": 6, "dy": 4, "fontSize": 11.5, "fill": "#3a89c9"},
             "encoding": {"x": {"field": "i", "type": "quantitative", "scale": {"domain": [-0.85, 29.4]}}, "y": {"field": "v", "type": "quantitative", "scale": {"domain": [0.79, 3], "zero": false}}, "text": {"field": "c"}}}
           ]
          }
         ]
        }
       ]
      }
     ]
    },
    {
     "title": {"text": "siRNA pools", "orient": "bottom", "anchor": "middle", "frame": "bounds", "offset": 16, "dx": -30, "fontSize": 14.5, "fontWeight": "normal", "color": "#1a1a1a"},
     "resolve": {"scale": {"fill": "independent"}, "legend": {"fill": "independent"}},
     "hconcat": [
      {
       "title": {"text": "4 Gy X-rays", "anchor": "middle", "frame": "bounds", "offset": 16, "dx": -30, "fontSize": 14.5, "fontWeight": "normal", "color": "#1a1a1a"},
       "resolve": {"scale": {"fill": "independent"}, "legend": {"fill": "independent"}},
       "hconcat": [
        {
         "bounds": "flush", "spacing": 16,
         "resolve": {"scale": {"fill": "independent"}, "legend": {"fill": "independent"}},
         "hconcat": [
          {
           "width": 146, "height": 147,
           "layer": [
            {"data": {"name": "one"}, "mark": {"type": "rule", "stroke": "#1a1a1a", "strokeWidth": 1.3}, "encoding": {"y": {"datum": 0.79, "type": "quantitative", "scale": {"domain": [0.79, 3], "zero": false}}}},
            {"data": {"name": "ann"}, "transform": [{"filter": "datum.p == 'B3'"}], "mark": {"type": "rule", "stroke": "#555555", "strokeWidth": 0.8},
             "encoding": {"x": {"field": "i", "type": "quantitative", "scale": {"domain": [-0.85, 29.4]}, "axis": {"orient": "top", "offset": 13, "title": "U-251MG", "labels": false, "ticks": false, "titlePadding": 3}}, "x2": {"field": "li"}, "y": {"field": "v", "type": "quantitative", "scale": {"domain": [0.79, 3], "zero": false}}, "y2": {"field": "lv"}}},
            {"data": {"name": "ann"}, "transform": [{"filter": "datum.p == 'B3'"}], "mark": {"type": "text", "fontSize": 11.5, "fill": "#222222"},
             "encoding": {"x": {"field": "ti", "type": "quantitative", "scale": {"domain": [-0.85, 29.4]}}, "y": {"field": "tv", "type": "quantitative", "scale": {"domain": [0.79, 3], "zero": false}}, "text": {"field": "t"}}},
            {"data": {"name": "scr"}, "transform": [{"filter": "datum.p == 'B3'"}], "mark": {"type": "circle", "size": 50, "opacity": 1, "stroke": "#262626", "strokeWidth": 0.9},
             "encoding": {"x": {"field": "i", "type": "quantitative", "scale": {"domain": [-0.85, 29.4]}},
              "y": {"field": "v", "type": "quantitative", "scale": {"domain": [0.79, 3], "zero": false}, "axis": {"values": [1, 2, 3], "tickSize": 5, "labels": false, "title": null}},
              "fill": {"field": "c", "type": "nominal", "scale": {"domain": ["CTRL", "DDR1", "n.s.", "p<0.05", "p<0.01", "p<0.001"], "range": ["#000000", "#2a68a4", "#ffffff", "#e5f2c0", "#7cc26f", "#11784a"]}, "legend": null}}},
            {"data": {"name": "scr"}, "transform": [{"filter": "datum.p == 'B3' && datum.c == 'CTRL'"}], "mark": {"type": "text", "align": "left", "dx": 10, "dy": 7, "fontSize": 11.5, "fill": "#111111"},
             "encoding": {"x": {"field": "i", "type": "quantitative", "scale": {"domain": [-0.85, 29.4]}}, "y": {"field": "v", "type": "quantitative", "scale": {"domain": [0.79, 3], "zero": false}}, "text": {"field": "c"}}},
            {"data": {"name": "scr"}, "transform": [{"filter": "datum.p == 'B3' && datum.c == 'DDR1'"}], "mark": {"type": "text", "align": "left", "dx": 6, "dy": 7, "fontSize": 11.5, "fill": "#3a89c9"},
             "encoding": {"x": {"field": "i", "type": "quantitative", "scale": {"domain": [-0.85, 29.4]}}, "y": {"field": "v", "type": "quantitative", "scale": {"domain": [0.79, 3], "zero": false}}, "text": {"field": "c"}}}
           ]
          },
          {
           "width": 146, "height": 147,
           "layer": [
            {"data": {"name": "one"}, "mark": {"type": "rule", "stroke": "#1a1a1a", "strokeWidth": 1.3}, "encoding": {"y": {"datum": 0.79, "type": "quantitative", "scale": {"domain": [0.79, 3], "zero": false}}}},
            {"data": {"name": "ann"}, "transform": [{"filter": "datum.p == 'B4'"}], "mark": {"type": "rule", "stroke": "#555555", "strokeWidth": 0.8},
             "encoding": {"x": {"field": "i", "type": "quantitative", "scale": {"domain": [-0.85, 29.4]}, "axis": {"orient": "top", "offset": 13, "title": "LN-229", "labels": false, "ticks": false, "titlePadding": 3}}, "x2": {"field": "li"}, "y": {"field": "v", "type": "quantitative", "scale": {"domain": [0.79, 3], "zero": false}}, "y2": {"field": "lv"}}},
            {"data": {"name": "ann"}, "transform": [{"filter": "datum.p == 'B4'"}], "mark": {"type": "text", "fontSize": 11.5, "fill": "#222222"},
             "encoding": {"x": {"field": "ti", "type": "quantitative", "scale": {"domain": [-0.85, 29.4]}}, "y": {"field": "tv", "type": "quantitative", "scale": {"domain": [0.79, 3], "zero": false}}, "text": {"field": "t"}}},
            {"data": {"name": "scr"}, "transform": [{"filter": "datum.p == 'B4'"}], "mark": {"type": "circle", "size": 50, "opacity": 1, "stroke": "#262626", "strokeWidth": 0.9},
             "encoding": {"x": {"field": "i", "type": "quantitative", "scale": {"domain": [-0.85, 29.4]}},
              "y": {"field": "v", "type": "quantitative", "scale": {"domain": [0.79, 3], "zero": false}, "axis": {"values": [1, 2, 3], "tickSize": 5, "labels": false, "title": null}},
              "fill": {"field": "c", "type": "nominal", "scale": {"domain": ["CTRL", "DDR1", "n.s.", "p<0.05", "p<0.01", "p<0.001"], "range": ["#000000", "#2a68a4", "#ffffff", "#e5f2c0", "#7cc26f", "#11784a"]},
               "legend": {"orient": "none", "legendX": 155, "legendY": 1, "title": null, "values": ["n.s.", "p<0.05", "p<0.01", "p<0.001"], "symbolSize": 30, "symbolStrokeColor": "#444444", "symbolStrokeWidth": 0.8, "labelFontSize": 13.5, "rowPadding": 0, "labelOffset": 2}}}},
            {"data": {"name": "scr"}, "transform": [{"filter": "datum.p == 'B4' && datum.c == 'CTRL'"}], "mark": {"type": "text", "align": "left", "dx": 8, "dy": 6, "fontSize": 11.5, "fill": "#111111"},
             "encoding": {"x": {"field": "i", "type": "quantitative", "scale": {"domain": [-0.85, 29.4]}}, "y": {"field": "v", "type": "quantitative", "scale": {"domain": [0.79, 3], "zero": false}}, "text": {"field": "c"}}},
            {"data": {"name": "scr"}, "transform": [{"filter": "datum.p == 'B4' && datum.c == 'DDR1'"}], "mark": {"type": "text", "align": "left", "dx": 8, "dy": -6, "fontSize": 11.5, "fill": "#3a89c9"},
             "encoding": {"x": {"field": "i", "type": "quantitative", "scale": {"domain": [-0.85, 29.4]}}, "y": {"field": "v", "type": "quantitative", "scale": {"domain": [0.79, 3], "zero": false}}, "text": {"field": "c"}}}
           ]
          }
         ]
        }
       ]
      }
     ]
    }
   ]
  },
  {
   "spacing": 27,
   "resolve": {"scale": {"fill": "independent"}, "legend": {"fill": "independent"}},
   "hconcat": [
    {
     "title": {"text": "C", "anchor": "start", "frame": "bounds", "offset": -18, "fontSize": 16, "fontWeight": "normal", "color": "#1a1a1a"},
     "resolve": {"scale": {"fill": "independent"}, "legend": {"fill": "independent"}},
     "hconcat": [
      {
       "title": {"text": "SF4 [ER]", "orient": "bottom", "anchor": "middle", "frame": "bounds", "offset": 11, "dx": -18, "fontSize": 14.5, "fontWeight": "normal", "color": "#1a1a1a"},
       "resolve": {"scale": {"fill": "independent"}, "legend": {"fill": "independent"}},
       "hconcat": [
        {
         "title": {"text": "SF4 to DSB comparison", "anchor": "middle", "frame": "bounds", "offset": 4, "dx": -18, "fontSize": 14.5, "fontWeight": "normal", "color": "#1a1a1a"},
         "resolve": {"scale": {"fill": "independent"}, "legend": {"fill": "independent"}},
         "hconcat": [
          {
           "bounds": "flush", "spacing": 26,
           "resolve": {"scale": {"fill": "independent"}, "legend": {"fill": "independent"}},
           "hconcat": [
            {
             "width": 99, "height": 148,
             "title": {"text": "U-251MG", "offset": 5, "fontSize": 14.5, "fontWeight": "normal", "color": "#1a1a1a"},
             "resolve": {"scale": {"fill": "independent"}, "legend": {"fill": "independent"}},
             "layer": [
              {"data": {"name": "one"}, "mark": {"type": "rule", "stroke": "#b3b3b3", "strokeWidth": 1}, "encoding": {"x": {"datum": 1, "type": "quantitative", "scale": {"domain": [0, 2]}}}},
              {"data": {"name": "one"}, "mark": {"type": "rule", "stroke": "#b3b3b3", "strokeWidth": 1}, "encoding": {"y": {"datum": 1, "type": "quantitative", "scale": {"domain": [0, 3]}}}},
              {"data": {"name": "cd"}, "transform": [{"filter": "datum.p == 'C1' && (datum.s == 'siCTRL' || datum.s == 'siDDR1')"}], "mark": {"type": "circle", "size": 64, "opacity": 1, "stroke": "#262626", "strokeWidth": 0.9},
               "encoding": {"x": {"field": "x", "type": "quantitative", "scale": {"domain": [0, 2]}, "axis": {"orient": "bottom", "values": [0, 1, 2], "format": "d", "tickSize": 5, "labelPadding": 3, "title": null}},
                "y": {"field": "y", "type": "quantitative", "scale": {"domain": [0, 3]}, "axis": {"values": [0, 1, 2, 3], "format": "d", "tickSize": 5, "labelPadding": 5, "title": "residual DSB [ER]", "titleFontSize": 14, "titlePadding": 9}},
                "fill": {"field": "s", "type": "nominal", "scale": {"domain": ["siCTRL", "siDDR1"], "range": ["#ffffff", "#2a68a4"]}, "legend": null}}},
              {"data": {"name": "cd"}, "transform": [{"filter": "datum.p == 'C1' && datum.s != 'siCTRL' && datum.s != 'siDDR1'"}], "mark": {"type": "circle", "size": 64, "opacity": 1, "stroke": "#262626", "strokeWidth": 0.9},
               "encoding": {"x": {"field": "x", "type": "quantitative", "scale": {"domain": [0, 2]}}, "y": {"field": "y", "type": "quantitative", "scale": {"domain": [0, 3]}},
                "fill": {"field": "s", "type": "nominal", "scale": {"domain": ["siITGB3", "siITGB5", "siITGAV"], "range": ["#c2255f", "#3fc1d3", "#45463f"]}, "legend": null}}}
             ]
            },
            {
             "width": 99, "height": 148,
             "title": {"text": "LN-229", "offset": -9, "fontSize": 14.5, "fontWeight": "normal", "color": "#1a1a1a"},
             "resolve": {"scale": {"fill": "independent"}, "legend": {"fill": "independent"}},
             "layer": [
              {"data": {"name": "one"}, "mark": {"type": "rule", "stroke": "#b3b3b3", "strokeWidth": 1}, "encoding": {"x": {"datum": 1, "type": "quantitative", "scale": {"domain": [0, 2]}}}},
              {"data": {"name": "one"}, "mark": {"type": "rule", "stroke": "#b3b3b3", "strokeWidth": 1}, "encoding": {"y": {"datum": 1, "type": "quantitative", "scale": {"domain": [0, 3]}}}},
              {"data": {"name": "cd"}, "transform": [{"filter": "datum.p == 'C2' && (datum.s == 'siCTRL' || datum.s == 'siDDR1')"}], "mark": {"type": "circle", "size": 64, "opacity": 1, "stroke": "#262626", "strokeWidth": 0.9},
               "encoding": {"x": {"field": "x", "type": "quantitative", "scale": {"domain": [0, 2]}, "axis": {"orient": "bottom", "values": [0, 1, 2], "format": "d", "tickSize": 5, "labelPadding": 3, "title": null}},
                "y": {"field": "y", "type": "quantitative", "scale": {"domain": [0, 3]}, "axis": {"values": [0, 1, 2, 3], "tickSize": 5, "labels": false, "title": null}},
                "fill": {"field": "s", "type": "nominal", "scale": {"domain": ["siCTRL", "siDDR1"], "range": ["#ffffff", "#2a68a4"]},
                 "legend": {"orient": "none", "legendX": 106, "legendY": -22, "title": "siRNA pool", "titlePadding": 3, "symbolSize": 55, "symbolStrokeColor": "#333333", "symbolStrokeWidth": 0.8, "labelFontSize": 14.5, "rowPadding": 2, "labelOffset": 6}}}},
              {"data": {"name": "cd"}, "transform": [{"filter": "datum.p == 'C2' && datum.s != 'siCTRL' && datum.s != 'siDDR1'"}], "mark": {"type": "circle", "size": 64, "opacity": 1, "stroke": "#262626", "strokeWidth": 0.9},
               "encoding": {"x": {"field": "x", "type": "quantitative", "scale": {"domain": [0, 2]}}, "y": {"field": "y", "type": "quantitative", "scale": {"domain": [0, 3]}},
                "fill": {"field": "s", "type": "nominal", "scale": {"domain": ["siITGB3", "siITGB5", "siITGAV"], "range": ["#c2255f", "#3fc1d3", "#45463f"]},
                 "legend": {"orient": "none", "legendX": 106, "legendY": 34, "title": "siDDR1 +", "titlePadding": 3, "symbolSize": 55, "symbolStrokeColor": "#333333", "symbolStrokeWidth": 0.8, "labelFontSize": 14.5, "rowPadding": 2, "labelOffset": 6}}}}
             ]
            }
           ]
          }
         ]
        }
       ]
      }
     ]
    },
    {
     "title": {"text": "D", "anchor": "start", "frame": "bounds", "offset": -18, "fontSize": 16, "fontWeight": "normal", "color": "#1a1a1a"},
     "resolve": {"scale": {"fill": "independent"}, "legend": {"fill": "independent"}},
     "hconcat": [
      {
       "title": {"text": "U-251MG", "orient": "bottom", "anchor": "middle", "frame": "bounds", "offset": 11, "dx": -22, "fontSize": 14.5, "fontWeight": "normal", "color": "#1a1a1a"},
       "resolve": {"scale": {"fill": "independent"}, "legend": {"fill": "independent"}},
       "hconcat": [
        {
         "title": {"text": "U-251MG to LN-229 comparison", "anchor": "middle", "frame": "bounds", "offset": 4, "dx": -22, "fontSize": 14.5, "fontWeight": "normal", "color": "#1a1a1a"},
         "resolve": {"scale": {"fill": "independent"}, "legend": {"fill": "independent"}},
         "hconcat": [
          {
           "bounds": "flush", "spacing": 26,
           "resolve": {"scale": {"fill": "independent"}, "legend": {"fill": "independent"}},
           "hconcat": [
            {
             "width": 99, "height": 148,
             "title": {"text": "SF4 [ER]", "offset": 5, "fontSize": 14.5, "fontWeight": "normal", "color": "#1a1a1a"},
             "resolve": {"scale": {"fill": "independent"}, "legend": {"fill": "independent"}},
             "layer": [
              {"data": {"name": "one"}, "mark": {"type": "rule", "stroke": "#b3b3b3", "strokeWidth": 1}, "encoding": {"x": {"datum": 1, "type": "quantitative", "scale": {"domain": [0, 2]}}}},
              {"data": {"name": "one"}, "mark": {"type": "rule", "stroke": "#b3b3b3", "strokeWidth": 1}, "encoding": {"y": {"datum": 1, "type": "quantitative", "scale": {"domain": [0, 2]}}}},
              {"data": {"name": "cd"}, "transform": [{"filter": "datum.p == 'D1' && (datum.s == 'siCTRL' || datum.s == 'siDDR1')"}], "mark": {"type": "circle", "size": 64, "opacity": 1, "stroke": "#262626", "strokeWidth": 0.9},
               "encoding": {"x": {"field": "x", "type": "quantitative", "scale": {"domain": [0, 2]}, "axis": {"orient": "bottom", "values": [0, 1, 2], "format": "d", "tickSize": 5, "labelPadding": 3, "title": null}},
                "y": {"field": "y", "type": "quantitative", "scale": {"domain": [0, 2]}, "axis": {"values": [0, 1, 2], "format": "d", "tickSize": 5, "labelPadding": 5, "title": "LN-229", "titleFontSize": 14, "titlePadding": 9}},
                "fill": {"field": "s", "type": "nominal", "scale": {"domain": ["siCTRL", "siDDR1"], "range": ["#ffffff", "#2a68a4"]}, "legend": null}}},
              {"data": {"name": "cd"}, "transform": [{"filter": "datum.p == 'D1' && datum.s != 'siCTRL' && datum.s != 'siDDR1'"}], "mark": {"type": "circle", "size": 64, "opacity": 1, "stroke": "#262626", "strokeWidth": 0.9},
               "encoding": {"x": {"field": "x", "type": "quantitative", "scale": {"domain": [0, 2]}}, "y": {"field": "y", "type": "quantitative", "scale": {"domain": [0, 2]}},
                "fill": {"field": "s", "type": "nominal", "scale": {"domain": ["siITGB3", "siITGB5", "siITGAV"], "range": ["#c2255f", "#3fc1d3", "#45463f"]}, "legend": null}}}
             ]
            },
            {
             "width": 100, "height": 148,
             "title": {"text": "residual DSB [ER]", "offset": -9, "fontSize": 14.5, "fontWeight": "normal", "color": "#1a1a1a"},
             "resolve": {"scale": {"fill": "independent"}, "legend": {"fill": "independent"}},
             "layer": [
              {"data": {"name": "one"}, "mark": {"type": "rule", "stroke": "#b3b3b3", "strokeWidth": 1}, "encoding": {"x": {"datum": 1, "type": "quantitative", "scale": {"domain": [0, 3]}}}},
              {"data": {"name": "one"}, "mark": {"type": "rule", "stroke": "#b3b3b3", "strokeWidth": 1}, "encoding": {"y": {"datum": 1, "type": "quantitative", "scale": {"domain": [0, 2]}}}},
              {"data": {"name": "cd"}, "transform": [{"filter": "datum.p == 'D2' && (datum.s == 'siCTRL' || datum.s == 'siDDR1')"}], "mark": {"type": "circle", "size": 64, "opacity": 1, "stroke": "#262626", "strokeWidth": 0.9},
               "encoding": {"x": {"field": "x", "type": "quantitative", "scale": {"domain": [0, 3]}, "axis": {"orient": "bottom", "values": [0, 1, 2, 3], "format": "d", "tickSize": 5, "labelPadding": 3, "title": null}},
                "y": {"field": "y", "type": "quantitative", "scale": {"domain": [0, 2]}, "axis": {"values": [0, 1, 2], "tickSize": 5, "labels": false, "title": null}},
                "fill": {"field": "s", "type": "nominal", "scale": {"domain": ["siCTRL", "siDDR1"], "range": ["#ffffff", "#2a68a4"]},
                 "legend": {"orient": "none", "legendX": 116, "legendY": -22, "title": "siRNA pool", "titlePadding": 3, "symbolSize": 55, "symbolStrokeColor": "#333333", "symbolStrokeWidth": 0.8, "labelFontSize": 14.5, "rowPadding": 2, "labelOffset": 6}}}},
              {"data": {"name": "cd"}, "transform": [{"filter": "datum.p == 'D2' && datum.s != 'siCTRL' && datum.s != 'siDDR1'"}], "mark": {"type": "circle", "size": 64, "opacity": 1, "stroke": "#262626", "strokeWidth": 0.9},
               "encoding": {"x": {"field": "x", "type": "quantitative", "scale": {"domain": [0, 3]}}, "y": {"field": "y", "type": "quantitative", "scale": {"domain": [0, 2]}},
                "fill": {"field": "s", "type": "nominal", "scale": {"domain": ["siITGB3", "siITGB5", "siITGAV"], "range": ["#c2255f", "#3fc1d3", "#45463f"]},
                 "legend": {"orient": "none", "legendX": 116, "legendY": 34, "title": "siDDR1 +", "titlePadding": 3, "symbolSize": 55, "symbolStrokeColor": "#333333", "symbolStrokeWidth": 0.8, "labelFontSize": 14.5, "rowPadding": 2, "labelOffset": 6}}}}
             ]
            }
           ]
          }
         ]
        }
       ]
      }
     ]
    }
   ]
  }
 ]
}
